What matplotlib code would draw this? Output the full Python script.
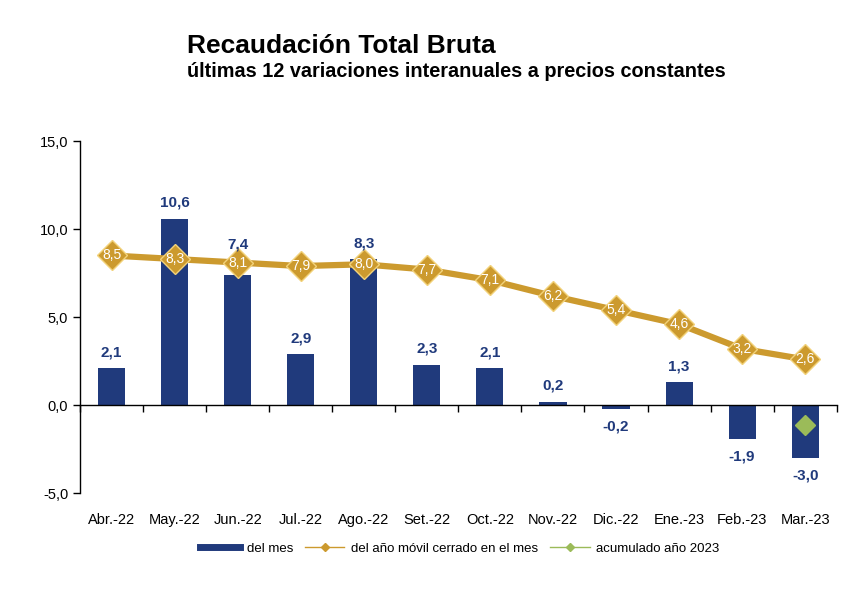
import numpy as np
import matplotlib.pyplot as plt
from matplotlib.lines import Line2D
from matplotlib.transforms import blended_transform_factory

plt.rcParams['font.family'] = ['Liberation Sans', 'DejaVu Sans']

# data
months = ["Abr.-22", "May.-22", "Jun.-22", "Jul.-22", "Ago.-22", "Set.-22",
          "Oct.-22", "Nov.-22", "Dic.-22", "Ene.-23", "Feb.-23", "Mar.-23"]
del_mes = [2.1, 10.6, 7.4, 2.9, 8.3, 2.3, 2.1, 0.2, -0.2, 1.3, -1.9, -3.0]
anio_movil = [8.5, 8.3, 8.1, 7.9, 8.0, 7.7, 7.1, 6.2, 5.4, 4.6, 3.2, 2.6]
acum_month = ["Mar.-23"]
acum_2023 = [-1.1]

navy = "#203A7C"
gold = "#CC9A2E"
green = "#9BBB59"

def fmt(v):
    return f"{v:.1f}".replace(".", ",")

fig = plt.figure(figsize=(8.55, 5.95), dpi=100)
ax = fig.add_axes([0.0936, 0.171, 0.885, 0.592])

x = np.arange(len(months))
ax.bar(x, del_mes, width=0.43, color=navy, zorder=2)
ax.plot(x, anio_movil, color=gold, lw=4.5, marker="D", markersize=15,
        markerfacecolor=gold, markeredgecolor="#F2D27A", markeredgewidth=1, zorder=3)
xa = [months.index(m) for m in acum_month]
ax.plot(xa, acum_2023, ls="none", marker="D", markersize=10,
        markerfacecolor=green, markeredgecolor=green, zorder=4)

for xi, v, lv in zip(x, del_mes, anio_movil):
    if v >= 0:
        y = v + 0.5
        # keep the label clear of the line marker just above the bar
        if 0 < lv - v < 1.5:
            y = lv + 0.6
        ax.text(xi, y, fmt(v), ha="center", va="bottom", color=navy,
                fontsize=11, fontweight="bold")
    else:
        ax.text(xi, v - 0.6, fmt(v), ha="center", va="top", color=navy,
                fontsize=11, fontweight="bold")

for xi, v in zip(x, anio_movil):
    ax.text(xi, v, fmt(v), ha="center", va="center", color="white",
            fontsize=10, zorder=5)

ax.set_xlim(-0.5, len(months) - 0.5)
ax.set_ylim(-5, 15)
ax.set_yticks([-5, 0, 5, 10, 15])
ax.set_yticklabels([fmt(v) for v in [-5, 0, 5, 10, 15]], fontsize=10.5)
ax.tick_params(axis="y", direction="out", length=5, width=1)

for s in ["top", "right"]:
    ax.spines[s].set_visible(False)
ax.spines["left"].set_linewidth(1)
ax.spines["bottom"].set_position(("data", 0))
ax.spines["bottom"].set_linewidth(1)
ax.set_xticks(x)
ax.set_xticklabels([])
ax.tick_params(axis="x", which="major", length=0)
ax.set_xticks(np.arange(-0.5, len(months), 1), minor=True)
ax.tick_params(axis="x", which="minor", direction="out", length=5, width=1)

trans = blended_transform_factory(ax.transData, ax.transAxes)
for xi, m in zip(x, months):
    ax.text(xi, -0.055, m, transform=trans, ha="center", va="top", fontsize=10.5)

fig.text(0.219, 0.911, "Recaudación Total Bruta", fontsize=19, fontweight="bold",
         ha="left", va="baseline")
fig.text(0.219, 0.871, "últimas 12 variaciones interanuales a precios constantes",
         fontsize=14.3, fontweight="bold", ha="left", va="baseline")

handles = [
    Line2D([], [], color=navy, lw=5),
    Line2D([], [], color=gold, lw=1, marker="D", markersize=4),
    Line2D([], [], color=green, lw=1, marker="D", markersize=4),
]
labels = ["del mes", "del año móvil cerrado en el mes", "acumulado año 2023"]
fig.legend(handles, labels, loc="center", bbox_to_anchor=(0.538, 0.078), ncol=3,
           frameon=False, fontsize=9.5, handlelength=3.0, columnspacing=0.9,
           handletextpad=0.5)

fig.savefig("out.png", dpi=100)
